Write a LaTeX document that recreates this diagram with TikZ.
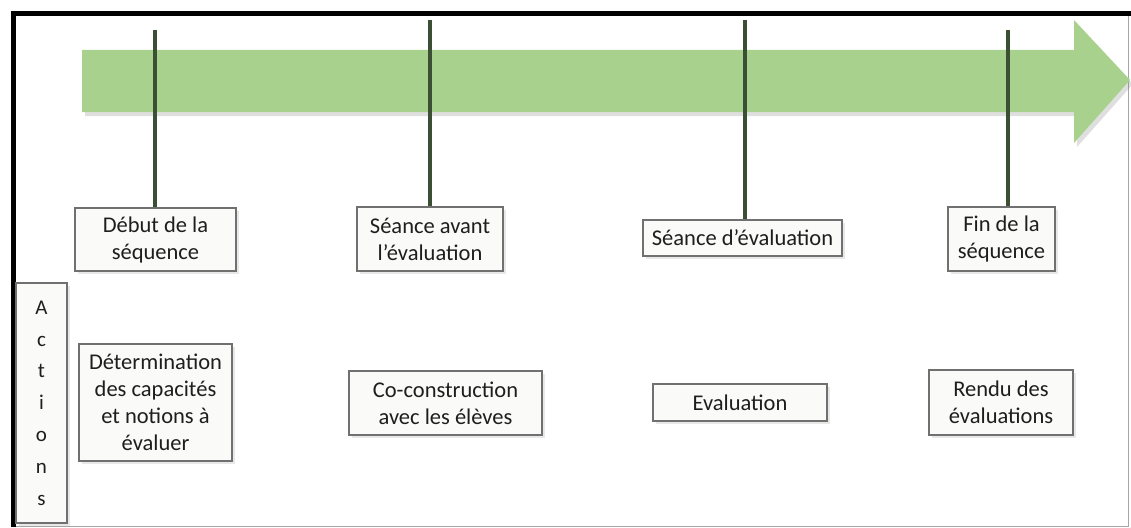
\documentclass[tikz,border=0pt]{standalone}
\usepackage{fontspec}
\setmainfont{Carlito}
\usetikzlibrary{shadows}
\definecolor{arrowgreen}{HTML}{A9D18E}
\definecolor{stemgreen}{HTML}{3A4F33}
\definecolor{boxline}{HTML}{707070}
\definecolor{boxfill}{HTML}{FAFAF8}
\definecolor{txt}{HTML}{1E1E1E}
\tikzset{
  lbox/.style={draw=boxline, line width=1.2pt, fill=boxfill, align=center,
    inner sep=2pt, font=\fontsize{22.5}{27}\selectfont, text=txt,
    drop shadow={opacity=0.18, shadow xshift=3pt, shadow yshift=-3pt}},
  stem/.style={draw=stemgreen, line width=4.5pt},
  frame/.style={draw=black, line width=5pt},
  thinframe/.style={draw=black!35, line width=1pt}
}
\begin{document}
\begin{tikzpicture}[x=1pt,y=-1pt]
\useasboundingbox (0,0) rectangle (1131,527);
% frame
\draw[thinframe] (13,526) -- (1128,526) -- (1128,14);
\draw[frame] (13,527) -- (13,14) -- (1131,14);
% big arrow
\fill[arrowgreen, drop shadow={opacity=0.25, shadow xshift=3pt, shadow yshift=-4pt}]
  (82,50) -- (1074,50) -- (1074,20) -- (1130,80) -- (1074,143) -- (1074,112) -- (82,112) -- cycle;
% top row boxes
\node[lbox, minimum width=161pt, minimum height=63pt] (b1) at (155.5,239.5) {Début de la\\séquence};
\node[lbox, minimum width=146pt, minimum height=64pt] (b2) at (430,239) {Séance avant\\l’évaluation};
\node[lbox, minimum width=199pt, minimum height=36pt] (b3) at (742.5,238) {Séance d’évaluation};
\node[lbox, minimum width=107pt, minimum height=64pt] (b4) at (1001.5,239) {Fin de la\\séquence};
% actions
\node[lbox, minimum width=51pt, minimum height=240pt, font=\fontsize{21}{31.8}\selectfont] (act) at (41.5,403) {A\\c\\t\\i\\o\\n\\s};
\node[lbox, minimum width=153pt, minimum height=117pt] (a1) at (155.5,402.5) {Détermination\\des capacités\\et notions à\\évaluer};
\node[lbox, minimum width=193pt, minimum height=64pt] (a2) at (445.5,403) {Co-construction\\avec les élèves};
\node[lbox, minimum width=174pt, minimum height=37pt] (a3) at (740,402.5) {Evaluation};
\node[lbox, minimum width=144pt, minimum height=65pt] (a4) at (1001,402.5) {Rendu des\\évaluations};
% stems
\coordinate (t1) at (155,30);
\coordinate (t2) at (430,20);
\coordinate (t3) at (745,20);
\coordinate (t4) at (1008,30);
\draw[stem] (t1) -- (t1 |- b1.north);
\draw[stem] (t2) -- (t2 |- b2.north);
\draw[stem] (t3) -- (t3 |- b3.north);
\draw[stem] (t4) -- (t4 |- b4.north);
\end{tikzpicture}
\end{document}
